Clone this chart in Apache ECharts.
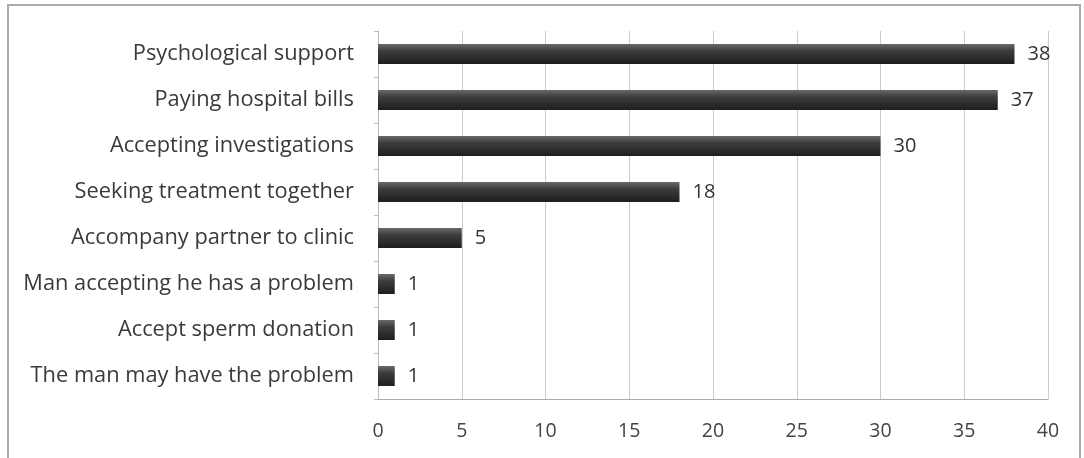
<!DOCTYPE html>
<html><head><meta charset="utf-8">
<script src="https://cdn.jsdelivr.net/npm/echarts@6/dist/echarts.min.js"></script>
<style>html,body{margin:0;padding:0;background:#fff}#c{width:1084px;height:458px}</style>
</head><body><div id="c"></div>
<script>
const categories = ["Psychological support","Paying hospital bills","Accepting investigations","Seeking treatment together","Accompany partner to clinic","Man accepting he has a problem","Accept sperm donation","The man may have the problem"];
const values = [38,37,30,18,5,1,1,1];
const xTicks = [0,5,10,15,20,25,30,35,40];
const chart = echarts.init(document.getElementById('c'));
const font = '"Open Sans", Lato, sans-serif';
chart.setOption({
  animation:false,
  graphic:[{type:'rect',shape:{x:8,y:5,width:1072,height:460},style:{fill:'none',stroke:'#aaa',lineWidth:2},silent:true}],
  grid:{left:378,right:36,top:31,bottom:59},
  xAxis:{type:'value',min:xTicks[0],max:xTicks[xTicks.length-1],interval:5,
    axisLine:{show:true,lineStyle:{color:'#aaa'}},axisTick:{show:false},
    splitLine:{show:true,lineStyle:{color:'#ccc'}},
    axisLabel:{color:'#444',fontFamily:font,fontSize:19.5,margin:22}},
  yAxis:{type:'category',inverse:true,data:categories,
    axisLine:{show:true,lineStyle:{color:'#bbb'}},axisTick:{show:true,length:4,lineStyle:{color:'#bbb'}},
    axisLabel:{color:'#3a3a3a',fontFamily:font,fontSize:21.8,margin:24}},
  series:[{type:'bar',data:values,barWidth:20,
    itemStyle:{color:new echarts.graphic.LinearGradient(0,0,0,1,[{offset:0,color:'#6a6a6a'},{offset:0.35,color:'#3c3c3c'},{offset:1,color:'#1e1e1e'}])},
    label:{show:true,position:'right',distance:13,color:'#333',fontFamily:font,fontSize:20}}]
});
</script></body></html>
